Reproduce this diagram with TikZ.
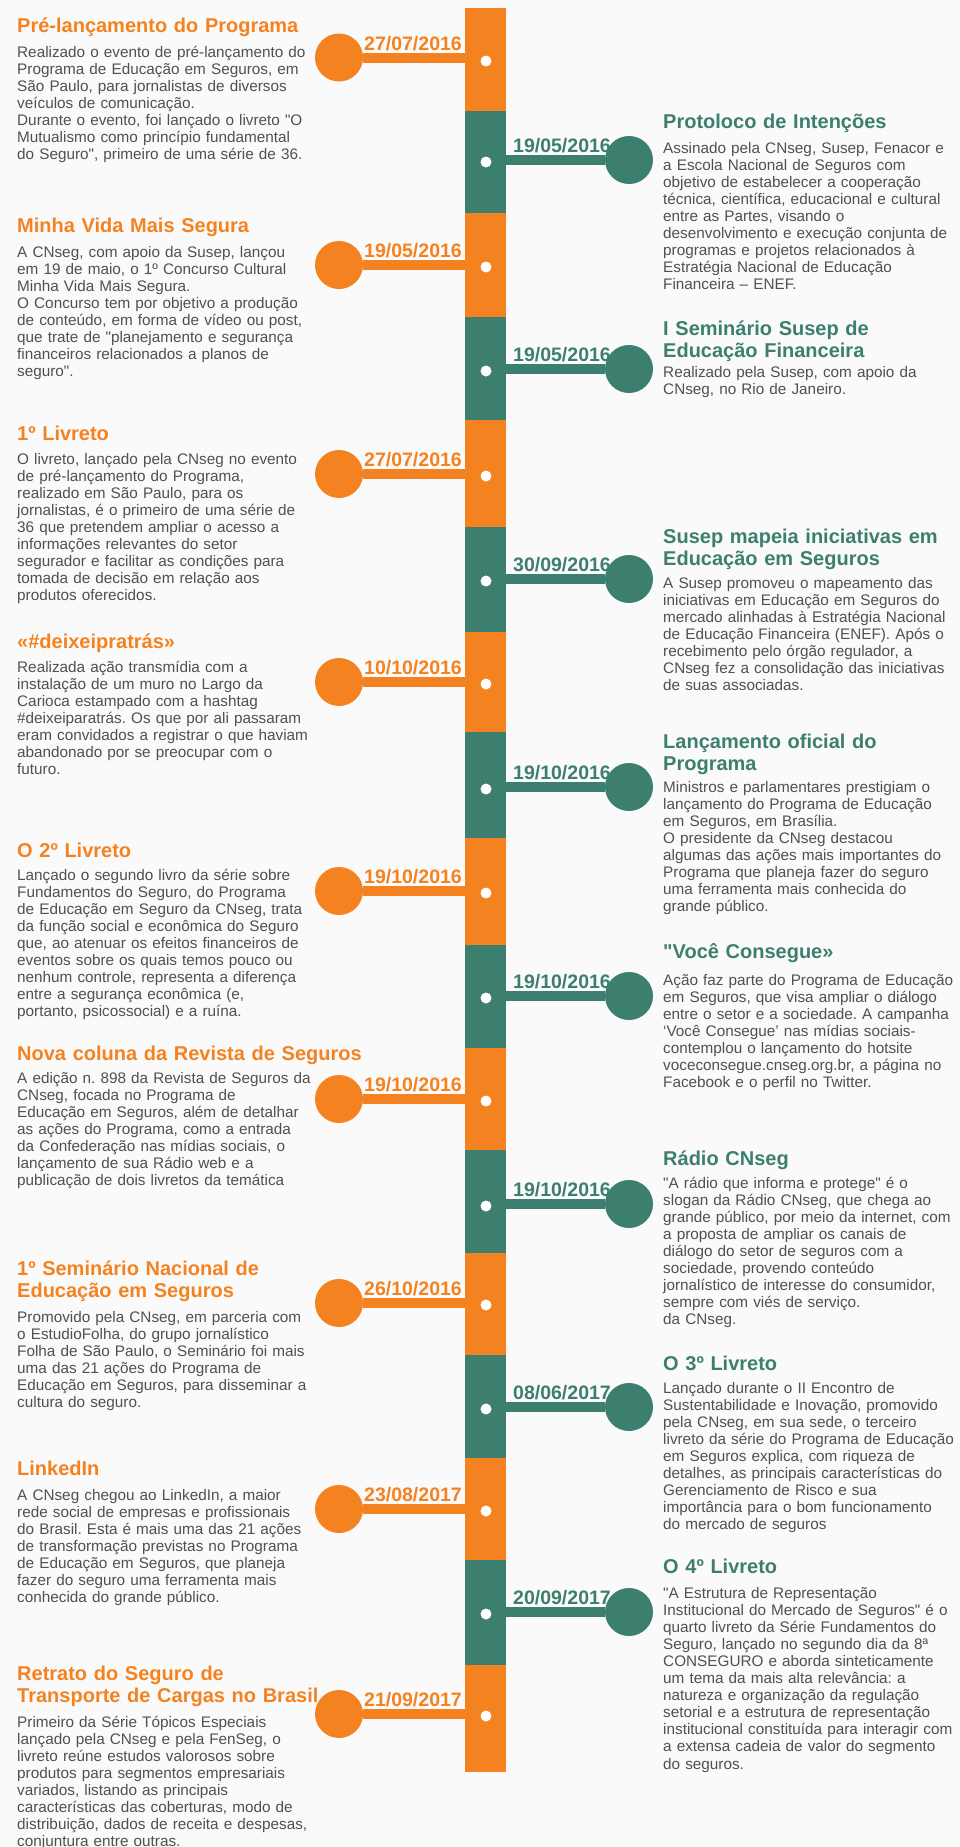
\documentclass[tikz,border=0pt]{standalone}
\usepackage{fontspec}
\setmainfont{Liberation Sans}[Ligatures=TeXOff]
\usepackage{tikz}
\usetikzlibrary{positioning}
\usepackage{xcolor}
\definecolor{segorange}{HTML}{F58220}
\definecolor{segteal}{HTML}{3D7F6F}
\definecolor{bodygray}{HTML}{505050}
\definecolor{paper}{HTML}{FAFAFA}
\newcommand\hdfont{\fontsize{20}{22.5}\selectfont\bfseries\frenchspacing}
\newcommand\txfont{\fontsize{15.3}{17.1}\selectfont\frenchspacing}
\newcommand\dtfont{\fontsize{19.5}{20}\selectfont\bfseries}

\begin{document}
\begin{tikzpicture}[x=1pt,y=-1pt]
        \tikzstyle{bullet}=[circle,fill,inner sep=0pt, minimum size=48pt]
        \tikzstyle{hole}=[circle,fill=white,inner sep=0pt, minimum size=11pt]
        \tikzstyle{link}=[line width=10pt]
        \tikzstyle{stamp}=[font=\dtfont,inner sep=0pt]
        \tikzstyle{heading}=[font=\hdfont,inner sep=0pt,anchor=base west,align=left,text width=440pt]
        \tikzstyle{blurb}=[font=\txfont,text=bodygray,inner sep=0pt,anchor=base west,align=left,text width=340pt]

        \useasboundingbox (0,0) rectangle (960,1847);
        \fill[paper] (0,0) rectangle (960,1847);

        % Spine
        \foreach \ya/\yb/\col in {8/111/segorange,111/213/segteal,213/317/segorange,317/420/segteal,
            420/527/segorange,527/632/segteal,632/732/segorange,732/838/segteal,838/945/segorange,
            945/1048/segteal,1048/1150/segorange,1150/1253/segteal,1253/1355/segorange,
            1355/1458/segteal,1458/1560/segorange,1560/1665/segteal,1665/1772/segorange}
            \fill[\col] (465,\ya) rectangle (506,\yb);
        \foreach \y [count=\i] in {61,162,267,371,476,581,684,789,893,998,1101,1206,1305,1409,1511,1614,1716}
            \node[hole] (dot\i) at (486,\y) {};

        % --- Left column ---
        % Pré-lançamento do Programa
        \node[bullet,segorange] (e0) at (339,57.5) {};
        \coordinate (s0) at (465,57.5);
        \draw[link,segorange] (e0) -- (s0);
        \node[stamp,segorange,anchor=base east] (d0) at (462,50) {27/07/2016};
        \node[heading,segorange] (h0) at (17,32) {Pré-lançamento do Programa};
        \node[blurb] (b0) at (17,57) {Realizado o evento de pré-lançamento do\\
            Programa de Educação em Seguros, em\\
            São Paulo, para jornalistas de diversos\\
            veículos de comunicação.\\
            Durante o evento, foi lançado o livreto "O\\
            Mutualismo como princípio fundamental\\
            do Seguro", primeiro de uma série de 36.};

        % Minha Vida Mais Segura
        \node[bullet,segorange] (e2) at (339,265) {};
        \coordinate (s2) at (465,265);
        \draw[link,segorange] (e2) -- (s2);
        \node[stamp,segorange,anchor=base east] (d2) at (462,257.5) {19/05/2016};
        \node[heading,segorange] (h2) at (17,232) {Minha Vida Mais Segura};
        \node[blurb] (b2) at (17,257) {A CNseg, com apoio da Susep, lançou\\
            em 19 de maio, o 1º Concurso Cultural\\
            Minha Vida Mais Segura.\\
            O Concurso tem por objetivo a produção\\
            de conteúdo, em forma de vídeo ou post,\\
            que trate de "planejamento e segurança\\
            financeiros relacionados a planos de\\
            seguro".};

        % 1º Livreto
        \node[bullet,segorange] (e4) at (339,474) {};
        \coordinate (s4) at (465,474);
        \draw[link,segorange] (e4) -- (s4);
        \node[stamp,segorange,anchor=base east] (d4) at (462,466.5) {27/07/2016};
        \node[heading,segorange] (h4) at (17,440) {1º Livreto};
        \node[blurb] (b4) at (17,464) {O livreto, lançado pela CNseg no evento\\
            de pré-lançamento do Programa,\\
            realizado em São Paulo, para os\\
            jornalistas, é o primeiro de uma série de\\
            36 que pretendem ampliar o acesso a\\
            informações relevantes do setor\\
            segurador e facilitar as condições para\\
            tomada de decisão em relação aos\\
            produtos oferecidos.};

        % #deixeipratrás
        \node[bullet,segorange] (e6) at (339,682) {};
        \coordinate (s6) at (465,682);
        \draw[link,segorange] (e6) -- (s6);
        \node[stamp,segorange,anchor=base east] (d6) at (462,674.5) {10/10/2016};
        \node[heading,segorange] (h6) at (17,648) {«\#deixeipratrás»};
        \node[blurb] (b6) at (17,672) {Realizada ação transmídia com a\\
            instalação de um muro no Largo da\\
            Carioca estampado com a hashtag\\
            \#deixeiparatrás. Os que por ali passaram\\
            eram convidados a registrar o que haviam\\
            abandonado por se preocupar com o\\
            futuro.};

        % O 2º Livreto
        \node[bullet,segorange] (e8) at (339,891) {};
        \coordinate (s8) at (465,891);
        \draw[link,segorange] (e8) -- (s8);
        \node[stamp,segorange,anchor=base east] (d8) at (462,883.5) {19/10/2016};
        \node[heading,segorange] (h8) at (17,857) {O 2º Livreto};
        \node[blurb] (b8) at (17,880) {Lançado o segundo livro da série sobre\\
            Fundamentos do Seguro, do Programa\\
            de Educação em Seguro da CNseg, trata\\
            da função social e econômica do Seguro\\
            que, ao atenuar os efeitos financeiros de\\
            eventos sobre os quais temos pouco ou\\
            nenhum controle, representa a diferença\\
            entre a segurança econômica (e,\\
            portanto, psicossocial) e a ruína.};

        % Nova coluna da Revista de Seguros
        \node[bullet,segorange] (e10) at (339,1099) {};
        \coordinate (s10) at (465,1099);
        \draw[link,segorange] (e10) -- (s10);
        \node[stamp,segorange,anchor=base east] (d10) at (462,1091.5) {19/10/2016};
        \node[heading,segorange] (h10) at (17,1060) {Nova coluna da Revista de Seguros};
        \node[blurb] (b10) at (17,1083) {A edição n. 898 da Revista de Seguros da\\
            CNseg, focada no Programa de\\
            Educação em Seguros, além de detalhar\\
            as ações do Programa, como a entrada\\
            da Confederação nas mídias sociais, o\\
            lançamento de sua Rádio web e a\\
            publicação de dois livretos da temática};

        % 1º Seminário Nacional
        \node[bullet,segorange] (e12) at (339,1303) {};
        \coordinate (s12) at (465,1303);
        \draw[link,segorange] (e12) -- (s12);
        \node[stamp,segorange,anchor=base east] (d12) at (462,1295.5) {26/10/2016};
        \node[heading,segorange] (h12) at (17,1275) {1º Seminário Nacional de\\Educação em Seguros};
        \node[blurb] (b12) at (17,1322) {Promovido pela CNseg, em parceria com\\
            o EstudioFolha, do grupo jornalístico\\
            Folha de São Paulo, o Seminário foi mais\\
            uma das 21 ações do Programa de\\
            Educação em Seguros, para disseminar a\\
            cultura do seguro.};

        % LinkedIn
        \node[bullet,segorange] (e14) at (339,1509) {};
        \coordinate (s14) at (465,1509);
        \draw[link,segorange] (e14) -- (s14);
        \node[stamp,segorange,anchor=base east] (d14) at (462,1501.5) {23/08/2017};
        \node[heading,segorange] (h14) at (17,1475) {LinkedIn};
        \node[blurb] (b14) at (17,1500) {A CNseg chegou ao LinkedIn, a maior\\
            rede social de empresas e profissionais\\
            do Brasil. Esta é mais uma das 21 ações\\
            de transformação previstas no Programa\\
            de Educação em Seguros, que planeja\\
            fazer do seguro uma ferramenta mais\\
            conhecida do grande público.};

        % Retrato do Seguro de Transporte
        \node[bullet,segorange] (e16) at (339,1714) {};
        \coordinate (s16) at (465,1714);
        \draw[link,segorange] (e16) -- (s16);
        \node[stamp,segorange,anchor=base east] (d16) at (462,1706.5) {21/09/2017};
        \node[heading,segorange] (h16) at (17,1680) {Retrato do Seguro de\\Transporte de Cargas no Brasil};
        \node[blurb] (b16) at (17,1727) {Primeiro da Série Tópicos Especiais\\
            lançado pela CNseg e pela FenSeg, o\\
            livreto reúne estudos valorosos sobre\\
            produtos para segmentos empresariais\\
            variados, listando as principais\\
            características das coberturas, modo de\\
            distribuição, dados de receita e despesas,\\
            conjuntura entre outras.};

        % --- Right column ---
        % Protoloco de Intenções
        \node[bullet,segteal] (e1) at (629,160) {};
        \coordinate (s1) at (506,160);
        \draw[link,segteal] (s1) -- (e1);
        \node[stamp,segteal,anchor=base west] (d1) at (513,152) {19/05/2016};
        \node[heading,segteal] (h1) at (663,128) {Protoloco de Intenções};
        \node[blurb] (b1) at (663,153) {Assinado pela CNseg, Susep, Fenacor e\\
            a Escola Nacional de Seguros com\\
            objetivo de estabelecer a cooperação\\
            técnica, científica, educacional e cultural\\
            entre as Partes, visando o\\
            desenvolvimento e execução conjunta de\\
            programas e projetos relacionados à\\
            Estratégia Nacional de Educação\\
            Financeira – ENEF.};

        % I Seminário Susep
        \node[bullet,segteal] (e3) at (629,369) {};
        \coordinate (s3) at (506,369);
        \draw[link,segteal] (s3) -- (e3);
        \node[stamp,segteal,anchor=base west] (d3) at (513,361) {19/05/2016};
        \node[heading,segteal] (h3) at (663,335) {I Seminário Susep de\\Educação Financeira};
        \node[blurb] (b3) at (663,377) {Realizado pela Susep, com apoio da\\
            CNseg, no Rio de Janeiro.};

        % Susep mapeia iniciativas
        \node[bullet,segteal] (e5) at (629,579) {};
        \coordinate (s5) at (506,579);
        \draw[link,segteal] (s5) -- (e5);
        \node[stamp,segteal,anchor=base west] (d5) at (513,571) {30/09/2016};
        \node[heading,segteal] (h5) at (663,543) {Susep mapeia iniciativas em\\Educação em Seguros};
        \node[blurb] (b5) at (663,588) {A Susep promoveu o mapeamento das\\
            iniciativas em Educação em Seguros do\\
            mercado alinhadas à Estratégia Nacional\\
            de Educação Financeira (ENEF). Após o\\
            recebimento pelo órgão regulador, a\\
            CNseg fez a consolidação das iniciativas\\
            de suas associadas.};

        % Lançamento oficial
        \node[bullet,segteal] (e7) at (629,787) {};
        \coordinate (s7) at (506,787);
        \draw[link,segteal] (s7) -- (e7);
        \node[stamp,segteal,anchor=base west] (d7) at (513,779) {19/10/2016};
        \node[heading,segteal] (h7) at (663,748) {Lançamento oficial do\\Programa};
        \node[blurb] (b7) at (663,792) {Ministros e parlamentares prestigiam o\\
            lançamento do Programa de Educação\\
            em Seguros, em Brasília.\\
            O presidente da CNseg destacou\\
            algumas das ações mais importantes do\\
            Programa que planeja fazer do seguro\\
            uma ferramenta mais conhecida do\\
            grande público.};

        % Você Consegue
        \node[bullet,segteal] (e9) at (629,996) {};
        \coordinate (s9) at (506,996);
        \draw[link,segteal] (s9) -- (e9);
        \node[stamp,segteal,anchor=base west] (d9) at (513,988) {19/10/2016};
        \node[heading,segteal] (h9) at (663,958) {"Você Consegue»};
        \node[blurb] (b9) at (663,985) {Ação faz parte do Programa de Educação\\
            em Seguros, que visa ampliar o diálogo\\
            entre o setor e a sociedade. A campanha\\
            ‘Você Consegue’ nas mídias sociais-\\
            contemplou o lançamento do hotsite\\
            voceconsegue.cnseg.org.br, a página no\\
            Facebook e o perfil no Twitter.};

        % Rádio CNseg
        \node[bullet,segteal] (e11) at (629,1204) {};
        \coordinate (s11) at (506,1204);
        \draw[link,segteal] (s11) -- (e11);
        \node[stamp,segteal,anchor=base west] (d11) at (513,1196) {19/10/2016};
        \node[heading,segteal] (h11) at (663,1165) {Rádio CNseg};
        \node[blurb] (b11) at (663,1188) {"A rádio que informa e protege" é o\\
            slogan da Rádio CNseg, que chega ao\\
            grande público, por meio da internet, com\\
            a proposta de ampliar os canais de\\
            diálogo do setor de seguros com a\\
            sociedade, provendo conteúdo\\
            jornalístico de interesse do consumidor,\\
            sempre com viés de serviço.\\
            da CNseg.};

        % O 3º Livreto
        \node[bullet,segteal] (e13) at (629,1407) {};
        \coordinate (s13) at (506,1407);
        \draw[link,segteal] (s13) -- (e13);
        \node[stamp,segteal,anchor=base west] (d13) at (513,1399) {08/06/2017};
        \node[heading,segteal] (h13) at (663,1370) {O 3º Livreto};
        \node[blurb] (b13) at (663,1393) {Lançado durante o II Encontro de\\
            Sustentabilidade e Inovação, promovido\\
            pela CNseg, em sua sede, o terceiro\\
            livreto da série do Programa de Educação\\
            em Seguros explica, com riqueza de\\
            detalhes, as principais características do\\
            Gerenciamento de Risco e sua\\
            importância para o bom funcionamento\\
            do mercado de seguros};

        % O 4º Livreto
        \node[bullet,segteal] (e15) at (629,1612) {};
        \coordinate (s15) at (506,1612);
        \draw[link,segteal] (s15) -- (e15);
        \node[stamp,segteal,anchor=base west] (d15) at (513,1604) {20/09/2017};
        \node[heading,segteal] (h15) at (663,1573) {O 4º Livreto};
        \node[blurb] (b15) at (663,1598) {"A Estrutura de Representação\\
            Institucional do Mercado de Seguros" é o\\
            quarto livreto da Série Fundamentos do\\
            Seguro, lançado no segundo dia da 8ª\\
            CONSEGURO e aborda sinteticamente\\
            um tema da mais alta relevância: a\\
            natureza e organização da regulação\\
            setorial e a estrutura de representação\\
            institucional constituída para interagir com\\
            a extensa cadeia de valor do segmento\\
            do seguros.};
    \end{tikzpicture}
\end{document}
